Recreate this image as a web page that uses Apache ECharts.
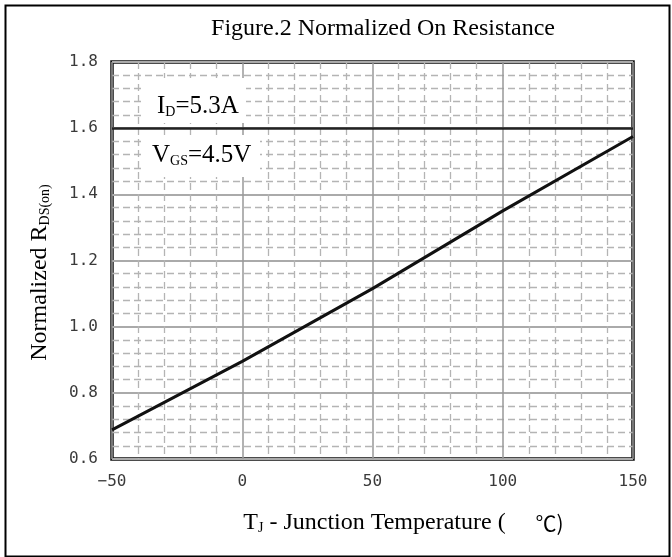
<!DOCTYPE html>
<html>
<head>
<meta charset="utf-8">
<script src="https://cdn.jsdelivr.net/npm/echarts@6/dist/echarts.min.js"></script>
<style>
  html, body { margin: 0; padding: 0; background: #fff; }
  #chart { width: 672px; height: 557px; }
</style>
</head>
<body>
<div id="chart"></div>
<script>
// temperature (°C) and normalized Rds(on)
const temps = [-50, 0, 50, 100, 150]
const rdsOn = [0.688, 0.895, 1.115, 1.35, 1.575]
const xTicks = [-50, 0, 50, 100, 150]
const yTicks = [0.6, 0.8, 1.0, 1.2, 1.4, 1.6, 1.8]

const chart = echarts.init(document.getElementById('chart'))

const serif = 'Liberation Serif'
const mono = 'DejaVu Sans Mono'

const subRich = {
  t: {fontFamily: serif, fontSize: 24, color: '#000'},
  sub: {fontFamily: serif, fontSize: 14, color: '#000', verticalAlign: 'bottom', padding: [10, 0, 0, 0]}
}

const option = {
  animation: false,
  backgroundColor: '#fff',
  title: {
    text: 'Figure.2 Normalized On Resistance',
    left: 378,
    top: 12,
    textAlign: 'center',
    textStyle: {fontFamily: serif, fontSize: 24, fontWeight: 'normal', color: '#000'}
  },
  grid: {
    left: 112, right: 39, top: 62, bottom: 98,
    show: true, borderColor: '#111', borderWidth: 3.5,
    containLabel: false
  },
  xAxis: {
    type: 'value',
    min: xTicks[0], max: xTicks[xTicks.length - 1], interval: 50,
    axisLine: {show: false},
    axisTick: {show: false},
    axisLabel: {
      margin: 15,
      fontFamily: mono, fontSize: 16, color: '#3a3a3a',
      formatter: v => (v < 0 ? '\u2212' + Math.abs(v) : String(v))
    },
    splitLine: {show: true, lineStyle: {color: '#999', width: 1.5}},
    minorTick: {show: false, splitNumber: 5},
    minorSplitLine: {show: true, lineStyle: {color: '#b4b4b4', width: 1.3, type: [7, 4]}},
    name: '{t|T}{sub|J}{t| - Junction Temperature (     }{s|℃)}',
    nameLocation: 'middle',
    nameGap: 52,
    nameTextStyle: {
      padding: [0, 0, 0, 62],
      rich: Object.assign({}, subRich, {
        s: {fontFamily: 'Noto Sans CJK SC', fontSize: 21, color: '#000'}
      })
    }
  },
  yAxis: {
    type: 'value',
    min: yTicks[0], max: yTicks[yTicks.length - 1], interval: 0.2,
    axisLine: {show: false},
    axisTick: {show: false},
    axisLabel: {
      margin: 14,
      fontFamily: mono, fontSize: 16, color: '#3a3a3a',
      formatter: v => v.toFixed(1)
    },
    splitLine: {show: true, lineStyle: {color: '#aaa', width: 2}},
    minorTick: {show: false, splitNumber: 5},
    minorSplitLine: {show: true, lineStyle: {color: '#b4b4b4', width: 1.3, type: [7, 4]}},
    name: '{t|Normalized R}{sub|DS(on)}',
    nameLocation: 'middle',
    nameRotate: 90,
    nameGap: 60,
    nameTextStyle: {
      padding: [0, 24, 0, 0],
      rich: subRich
    }
  },
  series: [
    {
      type: 'line',
      data: temps.map((t, i) => [t, rdsOn[i]]),
      showSymbol: false,
      lineStyle: {color: '#111', width: 3},
      markLine: {
        silent: true,
        symbol: 'none',
        label: {show: false},
        lineStyle: {color: '#222', width: 2.5, type: 'solid'},
        data: [{yAxis: 1.6}]
      },
      z: 5
    }
  ],
  graphic: [
    {
      type: 'rect', left: 3, top: 3, z: -1,
      shape: {width: 664, height: 551},
      style: {fill: 'none', stroke: '#000', lineWidth: 2}
    },
    {
      type: 'rect', left: 144, top: 78, z: 10,
      shape: {width: 102, height: 45},
      style: {fill: '#fff'}
    },
    {
      type: 'rect', left: 144, top: 135, z: 10,
      shape: {width: 116, height: 42},
      style: {fill: '#fff'}
    },
    {
      type: 'text', left: 157, top: 94, z: 11,
      style: {
        text: '{t|I}{sub|D}{t|=5.3A}',
        rich: {
          t: {fontFamily: serif, fontSize: 25, fill: '#000'},
          sub: {fontFamily: serif, fontSize: 14, fill: '#000', verticalAlign: 'bottom', padding: [10, 0, 0, 0]}
        }
      }
    },
    {
      type: 'text', left: 152, top: 143, z: 11,
      style: {
        text: '{t|V}{sub|GS}{t|=4.5V}',
        rich: {
          t: {fontFamily: serif, fontSize: 25, fill: '#000'},
          sub: {fontFamily: serif, fontSize: 14, fill: '#000', verticalAlign: 'bottom', padding: [10, 0, 0, 0]}
        }
      }
    }
  ]
}

chart.setOption(option)
</script>
</body>
</html>
